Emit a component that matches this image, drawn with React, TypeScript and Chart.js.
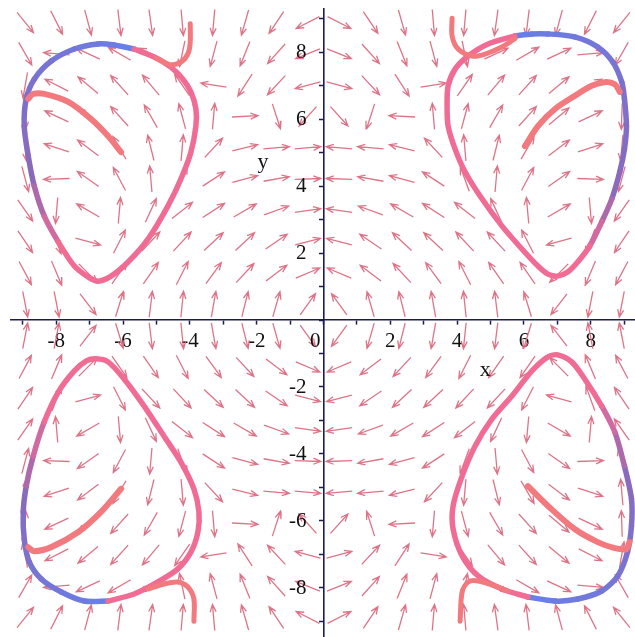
import React, { useEffect, useRef } from 'react';
import { Chart, registerables } from 'chart.js';

Chart.register(...registerables);

// ---- axes ----
const X_MIN = -9.356;
const X_MAX = 9.326;
const Y_MIN = -9.463;
const Y_MAX = 9.284;
const X_TICK_LABELS = [-8, -6, -4, -2, 2, 4, 6, 8];
const Y_TICK_LABELS = [-8, -6, -4, -2, 2, 4, 6, 8];
const ORIGIN_LABEL = '0';
const X_TITLE = 'x';
const Y_TITLE = 'y';
const X_TITLE_POS = [4.84, -1.49];
const Y_TITLE_POS = [-1.81, 4.72];

// ---- direction field (arrow centres and directions in degrees) ----
const FIELD_X = [-8.93, -7.99, -7.05, -6.11, -5.17, -4.23, -3.29, -2.35, -1.41, -0.47, 0.47, 1.41, 2.35, 3.29, 4.23, 5.17, 6.11, 7.05, 7.99, 8.93];
const FIELD_Y = [8.88, 7.95, 7.01, 6.08, 5.14, 4.21, 3.27, 2.34, 1.40, 0.47, -0.47, -1.40, -2.34, -3.27, -4.21, -5.14, -6.08, -7.01, -7.95, -8.88];
const FIELD_ANGLE = [
  [-51, -63, -75, -83, -82, -85, -95, -106, -124, -153, -27, -56, -74, -85, -95, -98, -97, -105, -117, -129],
  [-60, 175, 155, 150, 155, -102, -105, -112, -132, -158, -22, -48, -68, -75, -78, 25, 30, 25, 5, -120],
  [-100, 153, 140, 132, 130, 125, 171, -123, -133, -165, -15, -47, -57, 9, 55, 50, 48, 40, 27, -80],
  [-88, 155, 140, 132, 120, 105, 85, 3, -72, -132, -48, -108, 177, 95, 75, 60, 48, 40, 25, -92],
  [-85, 162, 143, 120, 104, 85, 47, 14, 5, 5, 175, 175, 166, 133, 95, 76, 60, 37, 18, -95],
  [-75, -178, 145, 118, 95, 70, 33, 15, 10, 2, 178, 170, 165, 147, 110, 85, 62, 35, -2, -105],
  [-55, -95, 150, 85, 65, 38, 33, 30, 20, 8, 172, 160, 150, 147, 142, 115, 95, 30, -85, -125],
  [-56, -70, -15, 63, 47, 47, 43, 43, 34, 14, 166, 146, 137, 137, 133, 133, 117, -165, -110, -124],
  [-62, -67, -45, 55, 55, 63, 54, 47, 37, 23, 157, 143, 133, 126, 117, 125, 125, -135, -113, -118],
  [-79, -79, -52, 73, 83, 84, 80, 76, 74, 54, 126, 106, 104, 100, 96, 97, 107, -128, -101, -101],
  [79, 79, 52, -73, -83, -84, -80, -76, -74, -54, -126, -106, -104, -100, -96, -97, -107, 128, 101, 101],
  [62, 67, 45, -55, -55, -63, -54, -47, -37, -23, -157, -143, -133, -126, -117, -125, -125, 135, 113, 118],
  [56, 70, 15, -63, -47, -47, -43, -43, -34, -14, -166, -146, -137, -137, -133, -133, -117, 165, 110, 124],
  [55, 95, -150, -85, -65, -38, -33, -30, -20, -8, -172, -160, -150, -147, -142, -115, -95, -30, 85, 125],
  [75, 178, -145, -118, -95, -70, -33, -15, -10, -2, -178, -170, -165, -147, -110, -85, -62, -35, 2, 105],
  [85, -162, -143, -120, -104, -85, -47, -14, -5, -5, -175, -175, -166, -133, -95, -76, -60, -37, -18, 95],
  [88, -155, -140, -132, -120, -105, -85, -3, 72, 132, 48, 108, -177, -95, -75, -60, -48, -40, -25, 92],
  [100, -153, -140, -132, -130, -125, -171, 123, 133, 165, 15, 47, 57, -9, -55, -50, -48, -40, -27, 80],
  [60, -175, -155, -150, -155, 102, 105, 112, 132, 158, 22, 48, 68, 75, 78, -25, -30, -25, -5, 120],
  [51, 63, 75, 83, 82, 85, 95, 106, 124, 153, 27, 56, 74, 85, 95, 98, 97, 105, 117, 129],
];

// ---- limit cycles (each starts at the blue arc) ----
const TR_LOOP_X = [5.73, 6.24, 6.72, 7.52, 8.21, 8.66, 8.93, 9.01, 9.07, 9.01, 8.87, 8.63, 8.33, 7.97, 7.61, 7.31, 7.01, 6.72, 6.42, 5.94, 5.34, 4.75, 4.24, 3.94, 3.73, 3.70, 3.73, 3.94, 4.33, 4.93, 5.73];
const TR_LOOP_Y = [8.48, 8.54, 8.54, 8.45, 8.15, 7.70, 7.10, 6.60, 5.79, 5.10, 4.42, 3.61, 2.93, 2.21, 1.73, 1.43, 1.31, 1.37, 1.61, 2.12, 2.81, 3.61, 4.42, 5.10, 5.79, 6.39, 6.99, 7.49, 7.88, 8.24, 8.48];
const TR_BLUE_END = 11;

const TL_LOOP_X = [-5.67, -6.27, -6.75, -7.46, -8.15, -8.66, -8.90, -8.96, -8.84, -8.66, -8.36, -7.94, -7.46, -7.04, -6.75, -6.36, -5.85, -5.25, -4.66, -4.27, -3.97, -3.82, -3.82, -3.97, -4.21, -4.57, -5.07, -5.67];
const TL_LOOP_Y = [8.09, 8.21, 8.24, 8.09, 7.73, 7.19, 6.60, 5.79, 4.90, 4.00, 3.10, 2.33, 1.61, 1.28, 1.16, 1.31, 1.73, 2.42, 3.40, 4.21, 5.01, 5.79, 6.30, 6.81, 7.19, 7.55, 7.85, 8.09];
const TL_BLUE_END = 9;

const BL_LOOP_X = [-6.45, -7.16, -7.85, -8.45, -8.81, -8.96, -8.99, -8.90, -8.69, -8.36, -7.94, -7.46, -7.10, -6.81, -6.45, -5.97, -5.37, -4.78, -4.27, -3.88, -3.73, -3.76, -3.97, -4.36, -4.96, -5.67, -6.45];
const BL_LOOP_Y = [-8.39, -8.39, -8.12, -7.73, -7.22, -6.54, -5.73, -4.96, -4.06, -3.04, -2.15, -1.52, -1.22, -1.16, -1.25, -1.76, -2.57, -3.46, -4.24, -5.04, -5.73, -6.33, -6.93, -7.43, -7.82, -8.18, -8.39];
const BL_BLUE_END = 7;

const BR_LOOP_X = [6.12, 6.93, 7.61, 8.33, 8.81, 9.10, 9.22, 9.22, 9.01, 8.72, 8.33, 7.82, 7.43, 7.01, 6.72, 6.24, 5.64, 5.04, 4.54, 4.15, 3.88, 3.88, 4.15, 4.63, 5.34, 6.12];
const BR_LOOP_Y = [-8.27, -8.39, -8.33, -8.09, -7.64, -6.93, -6.15, -5.34, -4.36, -3.34, -2.57, -1.76, -1.25, -1.04, -1.10, -1.52, -2.27, -2.96, -3.76, -4.66, -5.55, -6.24, -7.04, -7.64, -8.03, -8.27];
const BR_BLUE_END = 8;

// ---- inner spirals ----
const TR_SPIRAL_X = [6.03, 6.42, 6.93, 7.52, 8.03, 8.42, 8.72, 8.87];
const TR_SPIRAL_Y = [5.19, 5.79, 6.30, 6.69, 6.99, 7.10, 7.04, 6.81];
const TL_SPIRAL_X = [-6.06, -6.45, -6.96, -7.64, -8.36, -8.69, -8.84];
const TL_SPIRAL_Y = [5.01, 5.49, 6.00, 6.51, 6.75, 6.75, 6.60];
const BL_SPIRAL_X = [-6.06, -6.66, -7.34, -8.15, -8.66, -8.84];
const BL_SPIRAL_Y = [-5.04, -5.73, -6.33, -6.78, -6.90, -6.78];
const BR_SPIRAL_X = [6.12, 6.72, 7.52, 8.21, 8.72, 9.07, 9.16];
const BR_SPIRAL_Y = [-4.96, -5.55, -6.24, -6.63, -6.81, -6.84, -6.63];

// ---- outer tails ----
const TR_TAIL_X = [3.85, 3.85, 4.03, 4.45, 4.84, 5.34, 5.73];
const TR_TAIL_Y = [9.01, 8.48, 8.09, 7.88, 7.94, 8.15, 8.40];
const TL_TAIL_X = [-3.99, -3.99, -4.05, -4.24, -4.60, -5.00];
const TL_TAIL_Y = [8.84, 8.30, 7.97, 7.72, 7.62, 7.82];
const BL_TAIL_X = [-3.88, -3.88, -4.06, -4.36, -4.78, -5.25];
const BL_TAIL_Y = [-8.99, -8.33, -7.97, -7.82, -7.88, -8.03];
const BR_TAIL_X = [4.09, 4.15, 4.33, 4.63, 5.13, 5.52];
const BR_TAIL_Y = [-8.99, -8.12, -7.82, -7.79, -7.94, -8.09];

// ---- styles ----
const AXIS_COLOR = '#1c1c50';
const ARROW_COLOR = 'rgba(218, 100, 122, 0.9)';
const BLUE = [104, 126, 232];
const PURPLE = [140, 104, 184];
const PINK = [240, 108, 148];
const SALMON = '#f27a7e';
const SERIF = '"Liberation Serif", "Times New Roman", serif';

const pts = (xs: number[], ys: number[]) => xs.map((x, i) => ({ x, y: ys[i] }));
const rgb = (c: number[]) => `rgb(${c[0]},${c[1]},${c[2]})`;
const mix = (a: number[], b: number[], t: number) => a.map((v, i) => Math.round(v + (b[i] - v) * t));

function loopColor(i: number, blueEnd: number) {
  if (i < blueEnd) return rgb(mix(BLUE, PURPLE, i / blueEnd));
  if (i < blueEnd + 2) return rgb(mix(PURPLE, PINK, (i - blueEnd + 1) / 3));
  return rgb(PINK);
}

function fieldPoints() {
  const out: any[] = [];
  const L = 0.78;
  const H = 0.24;
  const HA = (22 * Math.PI) / 180;
  for (let r = 0; r < FIELD_Y.length; r++) {
    for (let c = 0; c < FIELD_X.length; c++) {
      const a = (FIELD_ANGLE[r][c] * Math.PI) / 180;
      const cx = FIELD_X[c];
      const cy = FIELD_Y[r];
      const dx = Math.cos(a);
      const dy = Math.sin(a);
      const hx = cx + (dx * L) / 2;
      const hy = cy + (dy * L) / 2;
      out.push({ x: cx - (dx * L) / 2, y: cy - (dy * L) / 2 }, { x: hx, y: hy }, { x: null, y: null });
      const b1 = a + Math.PI - HA;
      const b2 = a + Math.PI + HA;
      out.push(
        { x: hx + Math.cos(b1) * H, y: hy + Math.sin(b1) * H },
        { x: hx, y: hy },
        { x: hx + Math.cos(b2) * H, y: hy + Math.sin(b2) * H },
        { x: null, y: null }
      );
    }
  }
  return out;
}

const textPlugin = {
  id: 'mapleText',
  afterDraw(chart: any) {
    const { ctx, scales } = chart;
    const xs = scales.x;
    const ys = scales.y;
    const x0 = xs.getPixelForValue(0);
    const y0 = ys.getPixelForValue(0);
    ctx.save();
    ctx.fillStyle = '#111';
    ctx.font = `21px ${SERIF}`;
    ctx.textAlign = 'right';
    ctx.textBaseline = 'middle';
    Y_TICK_LABELS.forEach((v) => {
      ctx.fillText(String(v), x0 - 17, ys.getPixelForValue(v) + 0.5);
    });
    ctx.fillText(ORIGIN_LABEL, x0 - 3, y0 + 21);
    ctx.font = `22px ${SERIF}`;
    ctx.textAlign = 'center';
    ctx.fillText(X_TITLE, xs.getPixelForValue(X_TITLE_POS[0]), ys.getPixelForValue(X_TITLE_POS[1]));
    ctx.fillText(Y_TITLE, xs.getPixelForValue(Y_TITLE_POS[0]), ys.getPixelForValue(Y_TITLE_POS[1]));
    ctx.restore();
  },
};

export default function App() {
  const ref = useRef<HTMLCanvasElement>(null);
  useEffect(() => {
    if (!ref.current) return;
    const curve = (xs: number[], ys: number[], width: number) => ({
      type: 'line' as const,
      data: pts(xs, ys),
      borderColor: SALMON,
      borderWidth: width,
      borderCapStyle: 'round' as const,
      borderJoinStyle: 'round' as const,
      pointRadius: 0,
      tension: 0.3,
      clip: false as const,
    });
    const loop = (xs: number[], ys: number[], blueEnd: number) => ({
      type: 'line' as const,
      data: pts(xs, ys),
      borderColor: rgb(PINK),
      borderWidth: 5.5,
      borderCapStyle: 'round' as const,
      borderJoinStyle: 'round' as const,
      pointRadius: 0,
      tension: 0.28,
      clip: false as const,
      segment: { borderColor: (c: any) => loopColor(c.p0DataIndex, blueEnd) },
    });
    const datasets: any[] = [
      curve(TR_TAIL_X, TR_TAIL_Y, 5),
      curve(TL_TAIL_X, TL_TAIL_Y, 5),
      curve(BL_TAIL_X, BL_TAIL_Y, 5),
      curve(BR_TAIL_X, BR_TAIL_Y, 5),
      curve(TR_SPIRAL_X, TR_SPIRAL_Y, 6),
      curve(TL_SPIRAL_X, TL_SPIRAL_Y, 6),
      curve(BL_SPIRAL_X, BL_SPIRAL_Y, 6),
      curve(BR_SPIRAL_X, BR_SPIRAL_Y, 6),
      loop(TR_LOOP_X, TR_LOOP_Y, TR_BLUE_END),
      loop(TL_LOOP_X, TL_LOOP_Y, TL_BLUE_END),
      loop(BL_LOOP_X, BL_LOOP_Y, BL_BLUE_END),
      loop(BR_LOOP_X, BR_LOOP_Y, BR_BLUE_END),
      {
        type: 'line',
        data: fieldPoints(),
        borderColor: ARROW_COLOR,
        borderWidth: 1.3,
        pointRadius: 0,
        tension: 0,
        spanGaps: false,
        clip: false,
      },
    ];
    const axisCommon = {
      type: 'linear' as const,
      grid: {
        display: true,
        drawOnChartArea: false,
        drawTicks: true,
        tickLength: 4,
        tickWidth: 1.5,
        tickColor: AXIS_COLOR,
        color: AXIS_COLOR,
      },
      border: { display: true, color: AXIS_COLOR, width: 1.6 },
    };
    const chart = new Chart(ref.current, {
      type: 'scatter',
      data: { datasets },
      options: {
        responsive: false,
        animation: false,
        devicePixelRatio: 1,
        events: [],
        layout: { padding: { left: 11, top: 9, right: 0, bottom: 0 } },
        plugins: { legend: { display: false }, tooltip: { enabled: false } },
        scales: {
          x: {
            ...axisCommon,
            min: X_MIN,
            max: X_MAX,
            position: { y: 0 },
            ticks: {
              stepSize: 1,
              autoSkip: false,
              includeBounds: false,
              maxRotation: 0,
              padding: 5,
              color: '#111',
              font: { family: SERIF, size: 21 },
              callback: (v: any) => (X_TICK_LABELS.includes(Number(v)) ? String(v) : ''),
            },
          },
          y: {
            ...axisCommon,
            min: Y_MIN,
            max: Y_MAX,
            position: { x: 0 },
            ticks: {
              stepSize: 1,
              autoSkip: false,
              includeBounds: false,
              display: false,
            },
          },
        },
      } as any,
      plugins: [textPlugin],
    });
    return () => chart.destroy();
  }, []);
  return (
    <canvas
      ref={ref}
      width={635}
      height={637}
      style={{ position: 'absolute', left: 0, top: 0, width: 635, height: 637, background: '#fff' }}
    />
  );
}
